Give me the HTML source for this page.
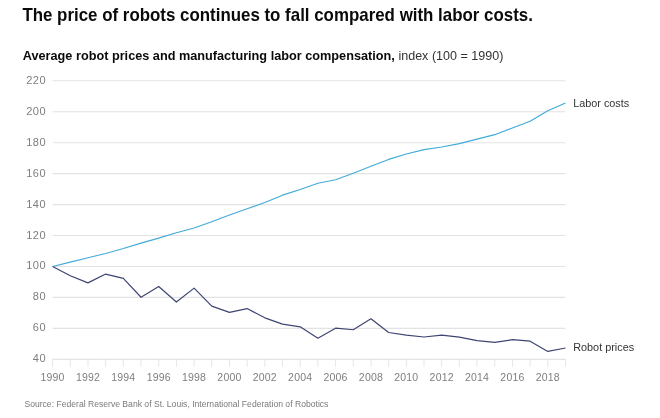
<!DOCTYPE html>
<html><head><meta charset="utf-8"><style>
html,body{margin:0;padding:0;background:#fff;}
body{width:660px;height:418px;overflow:hidden;}
svg{display:block;font-family:"Liberation Sans",sans-serif;will-change:transform;}
</style></head><body>
<svg width="660" height="418" viewBox="0 0 660 418">
<rect width="660" height="418" fill="#fff"/>
<text x="22.4" y="20.7" font-size="17.7" font-weight="700" fill="#0a0a0a" textLength="510.5" lengthAdjust="spacingAndGlyphs">The price of robots continues to fall compared with labor costs.</text>
<text x="22.8" y="59.9" font-size="13.1" font-weight="700" fill="#0a0a0a" textLength="372" lengthAdjust="spacingAndGlyphs">Average robot prices and manufacturing labor compensation,</text><text x="398.4" y="59.9" font-size="13.1" fill="#333" textLength="105" lengthAdjust="spacingAndGlyphs">index (100 = 1990)</text>
<g stroke="#e3e3e3" stroke-width="1.1">
<line x1="52.60" y1="328.36" x2="565.49" y2="328.36"/><line x1="52.60" y1="297.41" x2="565.49" y2="297.41"/><line x1="52.60" y1="266.47" x2="565.49" y2="266.47"/><line x1="52.60" y1="235.52" x2="565.49" y2="235.52"/><line x1="52.60" y1="204.58" x2="565.49" y2="204.58"/><line x1="52.60" y1="173.64" x2="565.49" y2="173.64"/><line x1="52.60" y1="142.69" x2="565.49" y2="142.69"/><line x1="52.60" y1="111.75" x2="565.49" y2="111.75"/><line x1="52.60" y1="80.80" x2="565.49" y2="80.80"/>
</g>
<g stroke="#e6e6e6" stroke-width="1">
<line x1="52.60" y1="359.30" x2="52.60" y2="366.80"/><line x1="70.29" y1="359.30" x2="70.29" y2="366.80"/><line x1="87.97" y1="359.30" x2="87.97" y2="366.80"/><line x1="105.66" y1="359.30" x2="105.66" y2="366.80"/><line x1="123.34" y1="359.30" x2="123.34" y2="366.80"/><line x1="141.03" y1="359.30" x2="141.03" y2="366.80"/><line x1="158.72" y1="359.30" x2="158.72" y2="366.80"/><line x1="176.40" y1="359.30" x2="176.40" y2="366.80"/><line x1="194.09" y1="359.30" x2="194.09" y2="366.80"/><line x1="211.77" y1="359.30" x2="211.77" y2="366.80"/><line x1="229.46" y1="359.30" x2="229.46" y2="366.80"/><line x1="247.15" y1="359.30" x2="247.15" y2="366.80"/><line x1="264.83" y1="359.30" x2="264.83" y2="366.80"/><line x1="282.52" y1="359.30" x2="282.52" y2="366.80"/><line x1="300.20" y1="359.30" x2="300.20" y2="366.80"/><line x1="317.89" y1="359.30" x2="317.89" y2="366.80"/><line x1="335.58" y1="359.30" x2="335.58" y2="366.80"/><line x1="353.26" y1="359.30" x2="353.26" y2="366.80"/><line x1="370.95" y1="359.30" x2="370.95" y2="366.80"/><line x1="388.63" y1="359.30" x2="388.63" y2="366.80"/><line x1="406.32" y1="359.30" x2="406.32" y2="366.80"/><line x1="424.01" y1="359.30" x2="424.01" y2="366.80"/><line x1="441.69" y1="359.30" x2="441.69" y2="366.80"/><line x1="459.38" y1="359.30" x2="459.38" y2="366.80"/><line x1="477.06" y1="359.30" x2="477.06" y2="366.80"/><line x1="494.75" y1="359.30" x2="494.75" y2="366.80"/><line x1="512.44" y1="359.30" x2="512.44" y2="366.80"/><line x1="530.12" y1="359.30" x2="530.12" y2="366.80"/><line x1="547.81" y1="359.30" x2="547.81" y2="366.80"/><line x1="565.49" y1="359.30" x2="565.49" y2="366.80"/>
</g>
<line x1="52.60" y1="359.30" x2="565.49" y2="359.30" stroke="#dcdcdc" stroke-width="1.1"/>
<g font-size="11" fill="#7e7e7e" text-anchor="end" letter-spacing="0.5">
<text x="46.1" y="362.30">40</text><text x="46.1" y="331.36">60</text><text x="46.1" y="300.41">80</text><text x="46.1" y="269.47">100</text><text x="46.1" y="238.52">120</text><text x="46.1" y="207.58">140</text><text x="46.1" y="176.64">160</text><text x="46.1" y="145.69">180</text><text x="46.1" y="114.75">200</text><text x="46.1" y="83.80">220</text>
</g>
<g font-size="10.5" fill="#7e7e7e" text-anchor="middle" letter-spacing="0.2">
<text x="52.60" y="381.2">1990</text><text x="87.97" y="381.2">1992</text><text x="123.34" y="381.2">1994</text><text x="158.72" y="381.2">1996</text><text x="194.09" y="381.2">1998</text><text x="229.46" y="381.2">2000</text><text x="264.83" y="381.2">2002</text><text x="300.20" y="381.2">2004</text><text x="335.58" y="381.2">2006</text><text x="370.95" y="381.2">2008</text><text x="406.32" y="381.2">2010</text><text x="441.69" y="381.2">2012</text><text x="477.06" y="381.2">2014</text><text x="512.44" y="381.2">2016</text><text x="547.81" y="381.2">2018</text>
</g>
<polyline points="52.60,266.47 70.29,262.14 87.97,257.80 105.66,253.47 123.34,248.52 141.03,243.11 158.72,238.15 176.40,232.74 194.09,227.94 211.77,221.75 229.46,214.95 247.15,208.76 264.83,202.57 282.52,195.14 300.20,189.42 317.89,183.23 335.58,179.67 353.26,173.17 370.95,166.36 388.63,159.40 406.32,153.99 424.01,149.65 441.69,147.02 459.38,143.62 477.06,139.13 494.75,134.65 512.44,127.99 530.12,121.19 547.81,110.82 565.49,103.08" fill="none" stroke="#42aad8" stroke-width="1.1" stroke-linejoin="round"/>
<polyline points="52.60,266.47 70.29,275.75 87.97,282.87 105.66,274.05 123.34,278.38 141.03,297.26 158.72,286.43 176.40,302.05 194.09,288.13 211.77,306.08 229.46,312.42 247.15,308.55 264.83,317.84 282.52,324.18 300.20,326.81 317.89,338.26 335.58,328.20 353.26,329.75 370.95,318.76 388.63,332.53 406.32,335.16 424.01,337.02 441.69,335.16 459.38,337.18 477.06,340.58 494.75,342.44 512.44,339.65 530.12,341.20 547.81,351.41 565.49,348.01" fill="none" stroke="#3e4572" stroke-width="1.2" stroke-linejoin="round"/>
<g font-size="11" fill="#333">
<text x="573.2" y="106.5" textLength="56" lengthAdjust="spacingAndGlyphs">Labor costs</text>
<text x="573.2" y="351.1" textLength="61" lengthAdjust="spacingAndGlyphs">Robot prices</text>
</g>
<text x="24.4" y="407.4" font-size="9.4" fill="#7a7a7a" textLength="304" lengthAdjust="spacingAndGlyphs">Source: Federal Reserve Bank of St. Louis, International Federation of Robotics</text>
</svg>
</body></html>
